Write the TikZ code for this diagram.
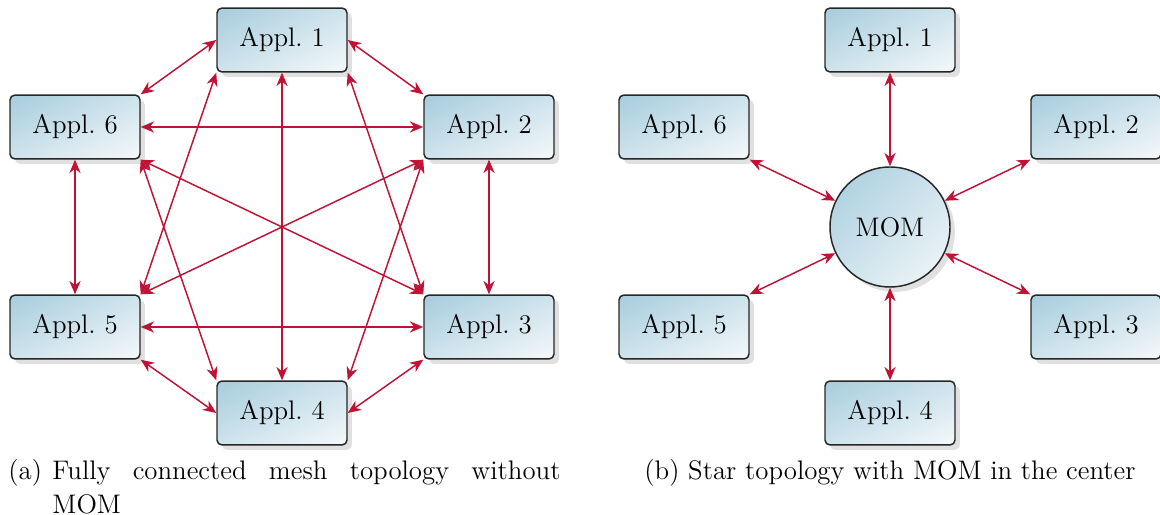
\documentclass[tikz,border=0pt]{standalone}
\usetikzlibrary{shadows,arrows.meta,shadings}
\definecolor{boxtop}{RGB}{166,204,221}
\definecolor{boxmid}{RGB}{206,227,236}
\definecolor{boxbot}{RGB}{245,248,250}
\definecolor{linkred}{RGB}{192,18,52}
\tikzset{
  boxfill/.style={shading=bilinear interpolation,
    upper left=boxtop, upper right=boxmid, lower left=boxmid, lower right=boxbot},
  appbox/.style={draw=black!85, line width=0.6pt, rounded corners=2pt,
    minimum width=53.3pt, minimum height=26.2pt, inner sep=0pt, boxfill,
    drop shadow={shadow xshift=2pt, shadow yshift=-2pt, fill=black!12, opacity=1}},
  momnode/.style={circle, draw=black!85, line width=0.6pt,
    minimum size=49.2pt, inner sep=0pt, boxfill,
    drop shadow={shadow xshift=2pt, shadow yshift=-2pt, fill=black!12, opacity=1}},
  link/.style={draw=linkred, line width=0.6pt, {Stealth[length=5.5pt,width=4.6pt]}-{Stealth[length=5.5pt,width=4.6pt]}},
}
\begin{document}
\begin{tikzpicture}[x=0.41pt, y=-0.41pt, font=\fontsize{11}{13.6}\selectfont]
\useasboundingbox (0,0) rectangle (1160,515);

% mesh topology
\node[appbox] (m1) at (282,40)  {Appl.~1};
\node[appbox] (m2) at (489,127) {Appl.~2};
\node[appbox] (m3) at (489,327) {Appl.~3};
\node[appbox] (m4) at (282,413) {Appl.~4};
\node[appbox] (m5) at (75,327)  {Appl.~5};
\node[appbox] (m6) at (75,127)  {Appl.~6};

\draw[link] (m1.west) -- (m6.north east);
\draw[link] (m1.east) -- (m2.north west);
\draw[link] (m4.west) -- (m5.south east);
\draw[link] (m4.east) -- (m3.south west);
\draw[link] (m6.east) -- (m2.west);
\draw[link] (m5.east) -- (m3.west);
\draw[link] (m6.south) -- (m5.north);
\draw[link] (m2.south) -- (m3.north);
\draw[link] (m1.south) -- (m4.north);
\draw[link] (m6.south east) -- (m3.north west);
\draw[link] (m2.south west) -- (m5.north east);
\draw[link] (m1.south west) -- (m5.north east);
\draw[link] (m1.south east) -- (m3.north west);
\draw[link] (m6.south east) -- (m4.north west);
\draw[link] (m2.south west) -- (m4.north east);

% star topology
\node[momnode] (mom) at (890,227) {MOM};
\node[appbox] (s1) at (890,40)   {Appl.~1};
\node[appbox] (s2) at (1096,127) {Appl.~2};
\node[appbox] (s3) at (1096,327) {Appl.~3};
\node[appbox] (s4) at (890,413)  {Appl.~4};
\node[appbox] (s5) at (684,327)  {Appl.~5};
\node[appbox] (s6) at (684,127)  {Appl.~6};

\draw[link] (s1.south) -- (mom);
\draw[link] (s4.north) -- (mom);
\draw[link] (s2.south west) -- (mom);
\draw[link] (s3.north west) -- (mom);
\draw[link] (s5.north east) -- (mom);
\draw[link] (s6.south east) -- (mom);

% sub-captions
\node[anchor=base west, inner sep=0pt] (capa) at (8,480) {(a)};
\node[anchor=base west, inner sep=0pt, text width=208.3pt, align=justify] (capatext) at (52,480)
  {Fully connected mesh topology without\linebreak MOM};
\node[anchor=base, inner sep=0pt] (capb) at (890,480) {(b) Star topology with MOM in the center};
\end{tikzpicture}
\end{document}
